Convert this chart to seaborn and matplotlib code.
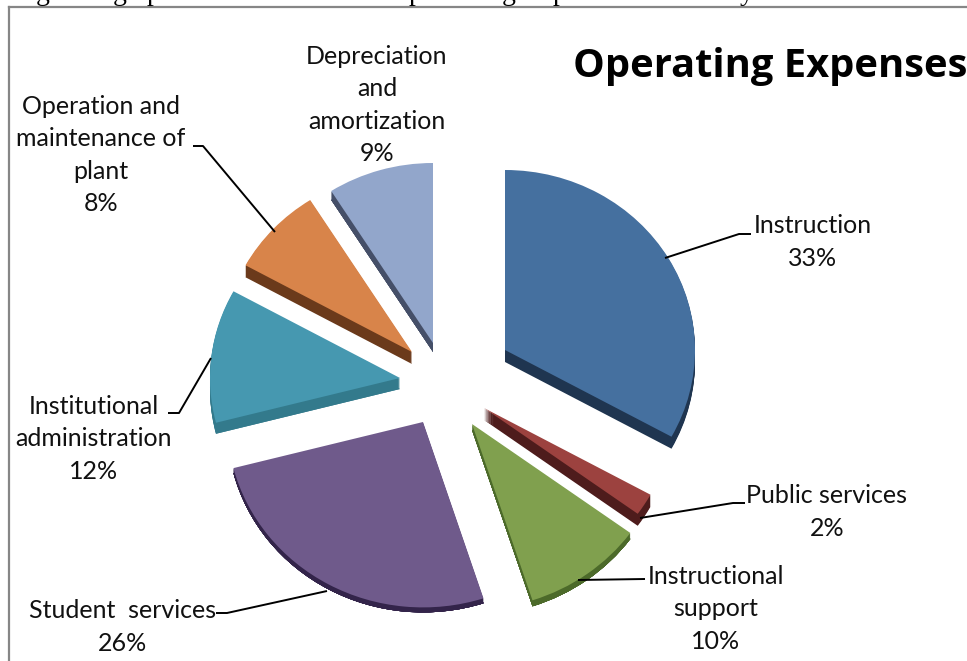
import matplotlib
matplotlib.use("Agg")
import matplotlib.pyplot as plt
import seaborn as sns

# Expense categories and their share of the total
categories = [
    "Instruction",
    "Public services",
    "Instructional\nsupport",
    "Student  services",
    "Institutional\nadministration",
    "Operation and\nmaintenance of\nplant",
    "Depreciation\nand\namortization",
]
shares = [33, 2, 10, 26, 12, 8, 9]

WIDTH, HEIGHT = 967, 661
LEFT, TOP = 9, 7
RADIUS = 190
Y_SCALE = 190 / 180  # slight tilt of the pie: vertical radius is 180 px


def xy(px, py):
    """Convert canvas pixel position to axes data units."""
    return px, (HEIGHT - py) * Y_SCALE


top_colors = ["#45709F", "#9C423F", "#80A04E", "#6F5A8B", "#4698B0", "#D8844A", "#92A6CB"]
side_colors = ["#1F3550", "#4E1C1C", "#4C6A2A", "#33244A", "#337A8C", "#6B3A1B", "#454F68"]

# Each slice is pulled out by hand; tips, side thickness and size factor
tips = [(505, 350), (484, 408), (472, 424), (423, 422), (400, 378), (412, 352), (433, 343)]
depths = [12, 12, 6, 5, 11, 12, 9]
size_factors = [1.0, 1.0, 1.03, 1.03, 1.0, 1.0, 1.0]

# Leader lines as pixel polylines
leaders = [
    [(665, 258), (739, 234), (751, 234)],
    [(640, 518), (733, 503), (745, 503)],
    [(578, 580), (645, 579)],
    [(327, 591), (227, 613), (216, 613)],
    [(168, 413), (179, 413), (211, 358)],
    [(193, 146), (203, 146), (275, 232)],
]
label_centres = [
    (813, 242), (827, 512), (716, 609), (123, 627), (94, 439), (101, 155), (377, 105),
]

sns.set_theme(style="white")
plt.rcParams["font.family"] = ["Lato", "DejaVu Sans"]

fig = plt.figure(figsize=(WIDTH / 100, HEIGHT / 100), dpi=100, facecolor="white")
ax = fig.add_axes([LEFT / WIDTH, 0, 1 - LEFT / WIDTH, 1 - TOP / HEIGHT])


def draw_layer(colors, drops):
    wedges, _ = ax.pie(
        shares, colors=colors, startangle=90, counterclock=False,
        radius=RADIUS, wedgeprops={"linewidth": 0},
    )
    for wedge, (px, py), drop, factor in zip(wedges, tips, drops, size_factors):
        wedge.set_center(xy(px, py + drop))
        wedge.set_radius(RADIUS * factor)


# Stack dark copies downward to form the slice sides, then the top faces
for step in range(max(depths), 0, -1):
    draw_layer(side_colors, [min(step, d) for d in depths])
draw_layer(top_colors, [0] * len(shares))

ax.set_aspect("auto")
ax.set_xlim(LEFT, WIDTH)
ax.set_ylim(0, (HEIGHT - TOP) * Y_SCALE)
ax.set_frame_on(True)
for side, spine in ax.spines.items():
    spine.set_visible(side in ("left", "top"))
    spine.set_color("#868686")
    spine.set_linewidth(1.6)

for line in leaders:
    points = [xy(*p) for p in line]
    ax.plot([p[0] for p in points], [p[1] for p in points],
            color="black", lw=1.4, solid_capstyle="butt", zorder=4)

for name, share, centre in zip(categories, shares, label_centres):
    x, y = xy(*centre)
    ax.text(x, y, f"{name}\n{share}%", ha="center", va="center", fontsize=18,
            color="#111111", linespacing=1.48, zorder=5)

x, y = xy(770, 66)
ax.text(x, y, "Operating Expenses", ha="center", va="center", fontsize=28.7,
        fontweight="bold", family=["Open Sans", "DejaVu Sans"], color="black", zorder=5)

# Descenders of the line of body text above the chart, cut by the page edge
for letter, px in zip("ggppgpy", (43, 120, 154, 416, 509, 560, 747)):
    x, y = xy(px, 0)
    ax.text(x, y, letter, ha="center", va="baseline", fontsize=20,
            family=["Liberation Serif", "DejaVu Serif"], color="black", clip_on=False)

fig.savefig("out.png", dpi=100, facecolor="white")
